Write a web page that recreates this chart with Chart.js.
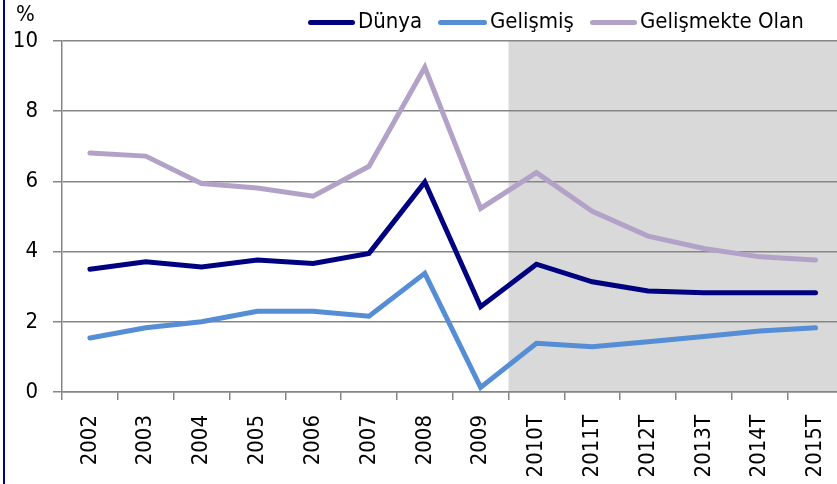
<!DOCTYPE html>
<html>
<head>
<meta charset="utf-8">
<script src="https://cdn.jsdelivr.net/npm/chart.js@4/dist/chart.umd.min.js"></script>
<style>
  html, body { margin: 0; padding: 0; background: #fff; overflow: hidden; }
  #wrap { position: relative; width: 837px; height: 484px; overflow: hidden; }
  #chart { position: absolute; left: 0; top: 0; }
  .txt { position: absolute; font-family: "DejaVu Sans Condensed", "DejaVu Sans", sans-serif; font-size: 22px; color: #000; white-space: nowrap; }
  .swatch { position: absolute; height: 5px; border-radius: 3px; }
  #edge { position: absolute; left: 3px; top: 0; width: 2px; height: 484px; background: #000080; }
</style>
</head>
<body>
<div id="wrap">
  <canvas id="chart" width="857" height="484"></canvas>
  <div id="edge"></div>
  <span class="txt" style="left:16px; top:1px;">%</span>
  <div class="swatch" style="left:308px; top:20px; width:47px; background:#000080;"></div>
  <span class="txt" style="left:358px; top:8px;">Dünya</span>
  <div class="swatch" style="left:438px; top:20px; width:49px; background:#558ed5;"></div>
  <span class="txt" style="left:490px; top:8px;">Gelişmiş</span>
  <div class="swatch" style="left:590px; top:20px; width:47px; background:#b3a2c7;"></div>
  <span class="txt" style="left:640px; top:8px;">Gelişmekte Olan</span>
</div>
<script>
// yıllar (T = tahmin)
const years = ['2002', '2003', '2004', '2005', '2006', '2007', '2008', '2009',
  '2010T', '2011T', '2012T', '2013T', '2014T', '2015T'];

// büyüme oranları, %
const dunya = [3.50, 3.71, 3.56, 3.76, 3.66, 3.95, 5.98, 2.43, 3.64, 3.14, 2.88, 2.83, 2.83, 2.83];
const gelismis = [1.54, 1.83, 2.00, 2.30, 2.30, 2.16, 3.38, 0.13, 1.39, 1.29, 1.43, 1.58, 1.74, 1.83];
const gelismekte = [6.81, 6.72, 5.94, 5.81, 5.58, 6.43, 9.25, 5.23, 6.25, 5.15, 4.44, 4.09, 3.85, 3.76];

const yTicks = [0, 2, 4, 6, 8, 10];

const gridColor = '#868686';
const font = { family: '"DejaVu Sans Condensed", "DejaVu Sans", sans-serif', size: 22 };

// tahmin dönemini gri ile göster
const forecastShade = {
  id: 'forecastShade',
  beforeDraw(chart) {
    const { ctx, chartArea } = chart;
    const x = chart.scales.x;
    const start = (x.getPixelForValue(7) + x.getPixelForValue(8)) / 2;
    ctx.save();
    ctx.fillStyle = '#d9d9d9';
    ctx.fillRect(start, chartArea.top, chartArea.right - start, chartArea.bottom - chartArea.top);
    ctx.restore();
  }
};

function line(label, data, color) {
  return {
    label, data,
    borderColor: color,
    backgroundColor: color,
    borderWidth: 5,
    borderCapStyle: 'round',
    pointRadius: 0,
    tension: 0,
    fill: false
  };
}

new Chart(document.getElementById('chart'), {
  type: 'line',
  data: {
    labels: years,
    datasets: [
      line('Gelişmekte Olan', gelismekte, '#b3a2c7'),
      line('Gelişmiş', gelismis, '#558ed5'),
      line('Dünya', dunya, '#000080')
    ]
  },
  plugins: [forecastShade],
  options: {
    responsive: false,
    animation: false,
    devicePixelRatio: 1,
    layout: { padding: { top: 41, right: 2, left: 0, bottom: 0 } },
    plugins: { legend: { display: false }, tooltip: { enabled: false } },
    scales: {
      x: {
        offset: true,
        grid: { drawOnChartArea: false, offset: true, tickLength: 8, color: gridColor, lineWidth: 1.5 },
        border: { color: gridColor, width: 1.5 },
        ticks: { font, color: '#000', minRotation: 90, maxRotation: 90, padding: 15, autoSkip: false },
        afterFit(scale) { scale.height = 92; }
      },
      y: {
        min: 0,
        max: 10,
        afterBuildTicks(scale) { scale.ticks = yTicks.map(v => ({ value: v })); },
        grid: { color: gridColor, lineWidth: 1.5, tickLength: 9 },
        border: { color: gridColor, width: 1.5 },
        ticks: { font, color: '#000', padding: 15 },
        afterFit(scale) { scale.width = 62; }
      }
    }
  }
});
</script>
</body>
</html>
